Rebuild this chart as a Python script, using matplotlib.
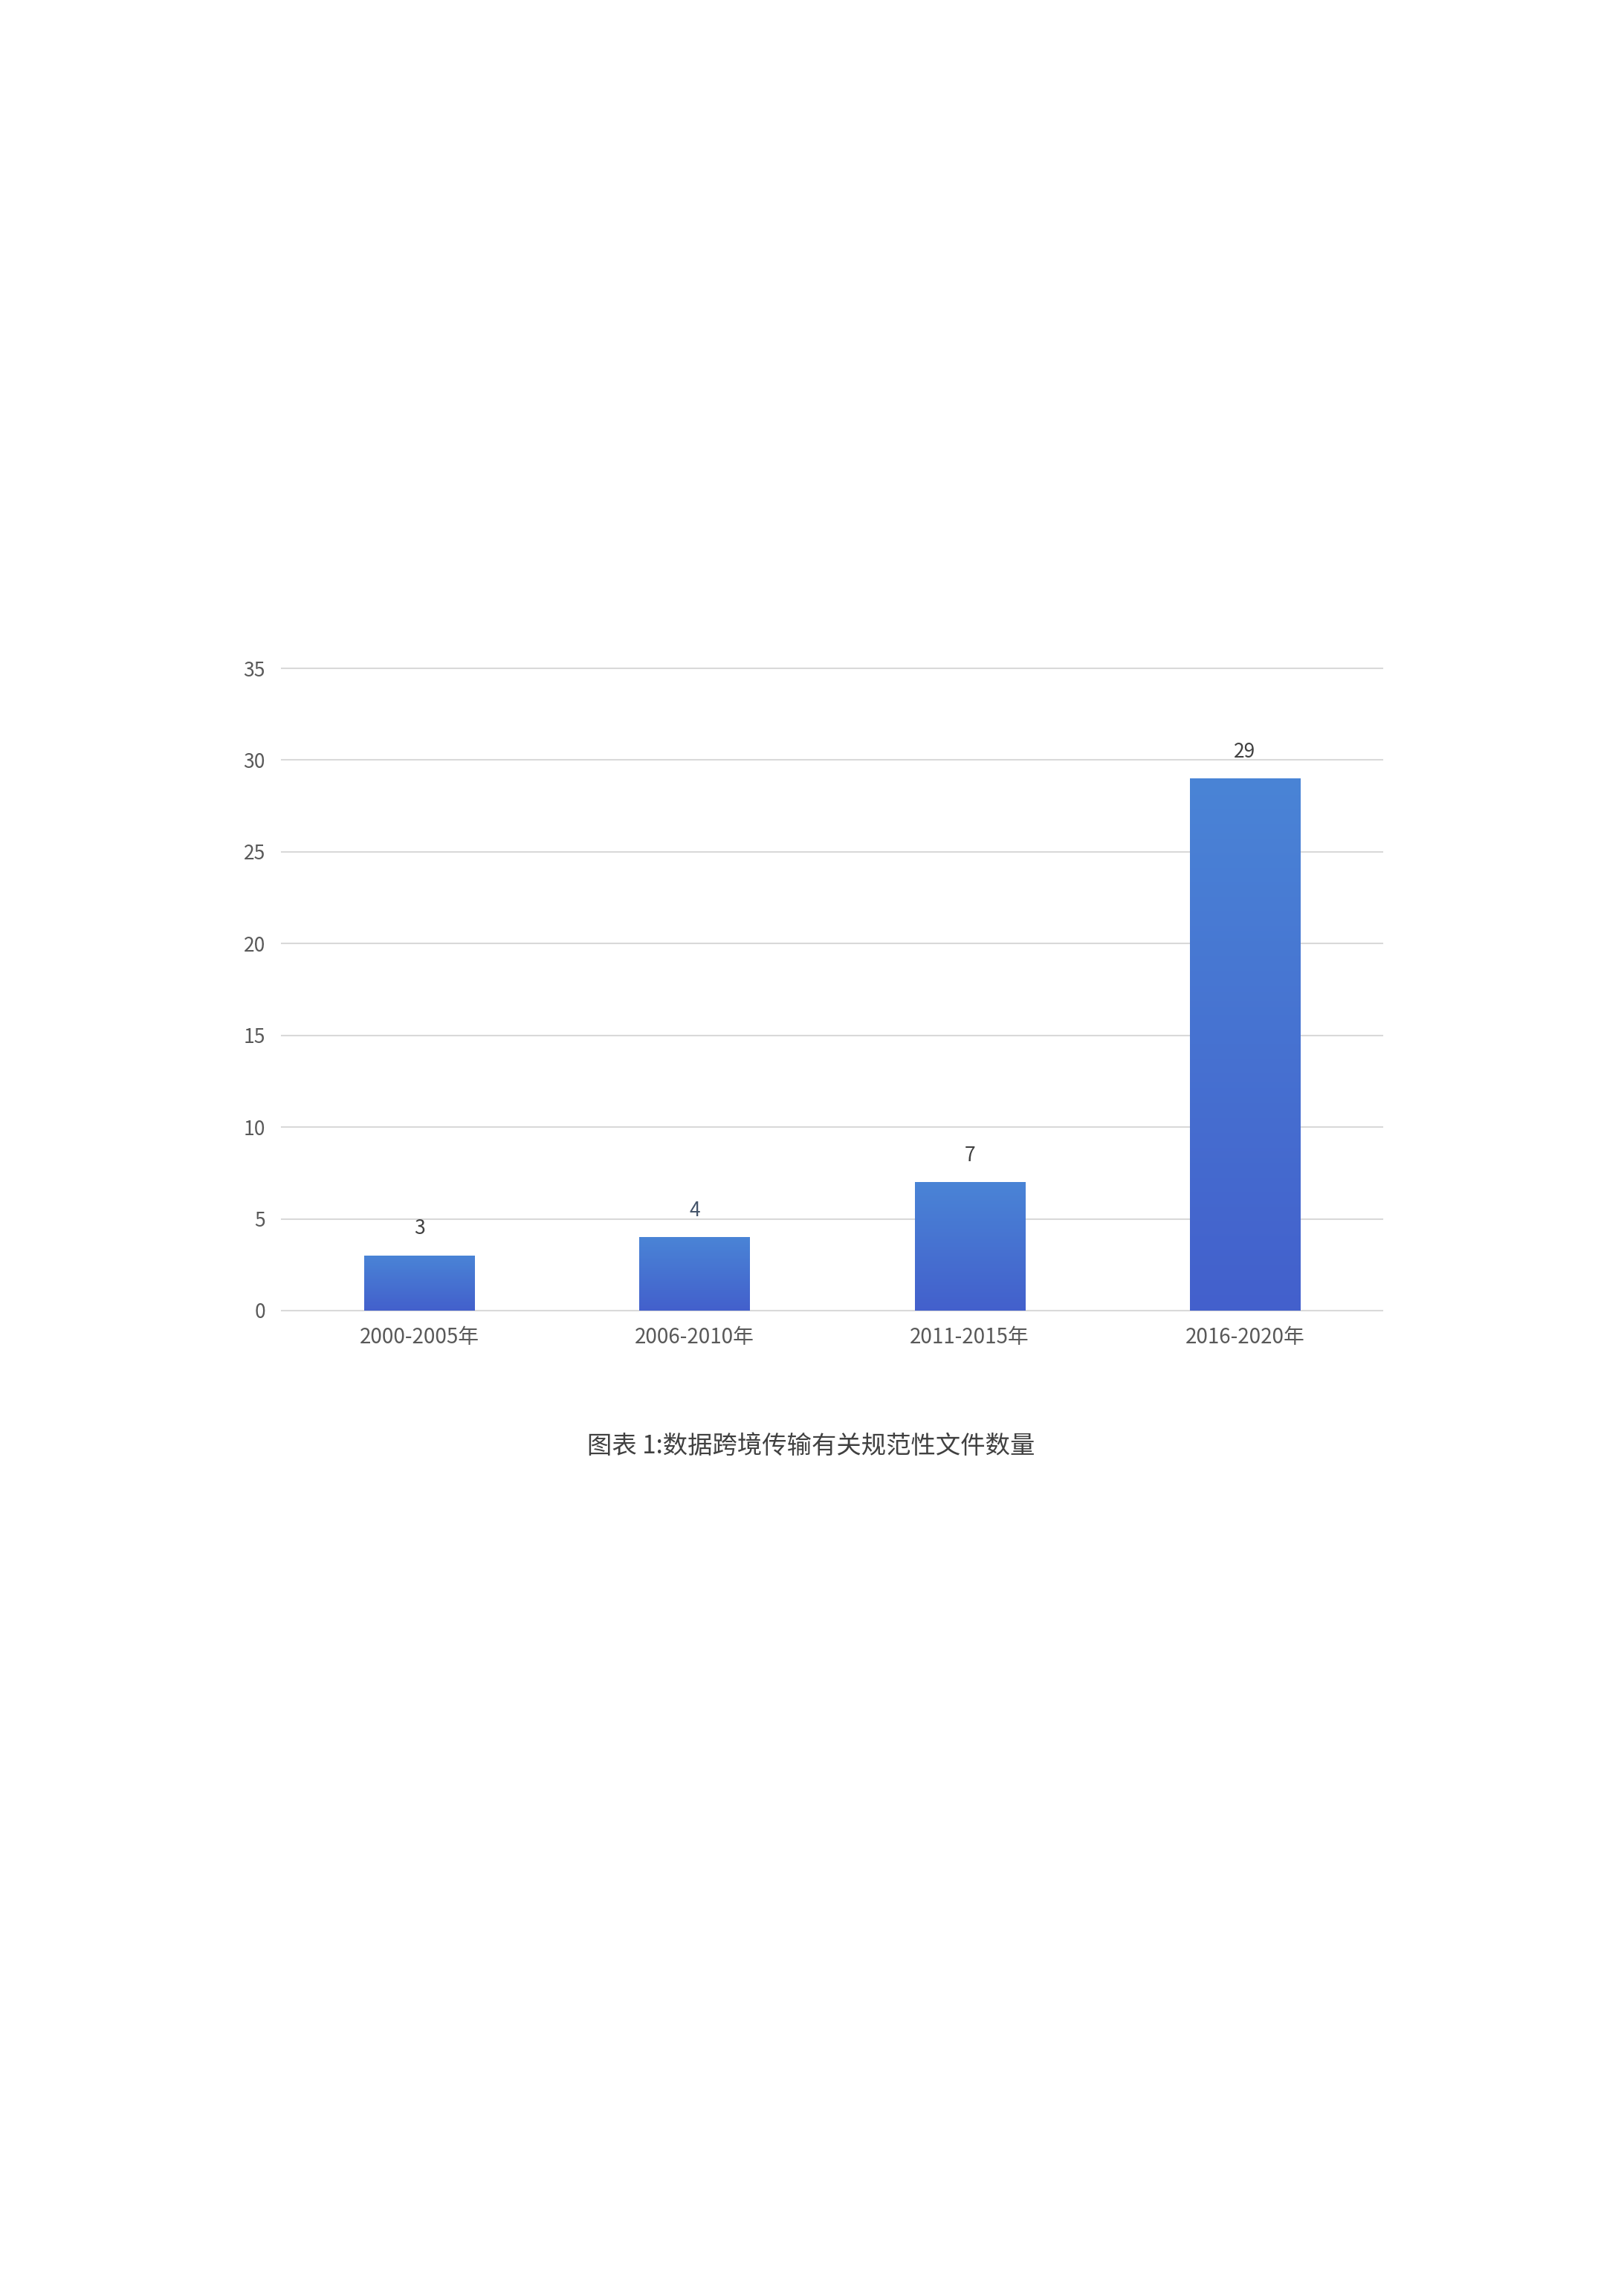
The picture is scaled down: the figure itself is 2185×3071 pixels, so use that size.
import numpy as np
import matplotlib.pyplot as plt
from matplotlib.colors import LinearSegmentedColormap

plt.rcParams['font.family'] = ['Noto Sans CJK SC', 'DejaVu Sans']

categories = ["2000-2005年", "2006-2010年", "2011-2015年", "2016-2020年"]
counts = [3, 4, 7, 29]
label_colors = ["#404040", "#44546a", "#404040", "#404040"]
y_ticks = [0, 5, 10, 15, 20, 25, 30, 35]
caption = "图表 1:数据跨境传输有关规范性文件数量"

bar_width = 0.4
grad = LinearSegmentedColormap.from_list("bar", ["#4360cc", "#4a84d6"])

fig = plt.figure(figsize=(21.85, 30.71), dpi=100)
fig.patch.set_facecolor("white")
ax = fig.add_axes([0.17346, 0.42592, 0.6778, 0.28134])

x = np.arange(len(categories))
bars = ax.bar(x, counts, width=bar_width, color="none", zorder=3)

# vertical gradient per bar, clipped to the bar shape
g = np.linspace(0, 1, 256).reshape(-1, 1)
for b in bars:
    x0, y0 = b.get_x(), b.get_y()
    w, h = b.get_width(), b.get_height()
    im = ax.imshow(g, cmap=grad, origin="lower", aspect="auto",
                   extent=[x0, x0 + w, y0, y0 + h], zorder=2.5)
    im.set_clip_path(b)

for xi, v, c in zip(x, counts, label_colors):
    ax.annotate(str(v), (xi, v), xytext=(0, 26), textcoords="offset points",
                ha="center", va="center", fontsize=19, color=c,
                fontweight="light")

ax.set_xlim(-0.5, len(categories) - 0.5)
ax.set_ylim(0, 35)
ax.set_yticks(y_ticks)
ax.set_xticks(x)
ax.set_xticklabels(categories)

ax.grid(axis="y", color="#d9d9d9", linewidth=1.5, zorder=0)
for line in ax.get_ygridlines():
    line.set_clip_on(False)
ax.set_axisbelow(True)

for s in ax.spines.values():
    s.set_visible(False)
ax.tick_params(axis="y", length=0, labelsize=19, labelcolor="#595959", pad=16)
ax.tick_params(axis="x", length=0, labelsize=20, labelcolor="#595959", pad=15)
for t in ax.get_xticklabels() + ax.get_yticklabels():
    t.set_fontweight("light")

fig.text(0.4995, 1 - 1945 / 3071, caption, ha="center", va="center",
         fontsize=24, color="#404040", fontweight="light")

fig.savefig("out.png", dpi=100, facecolor="white")
